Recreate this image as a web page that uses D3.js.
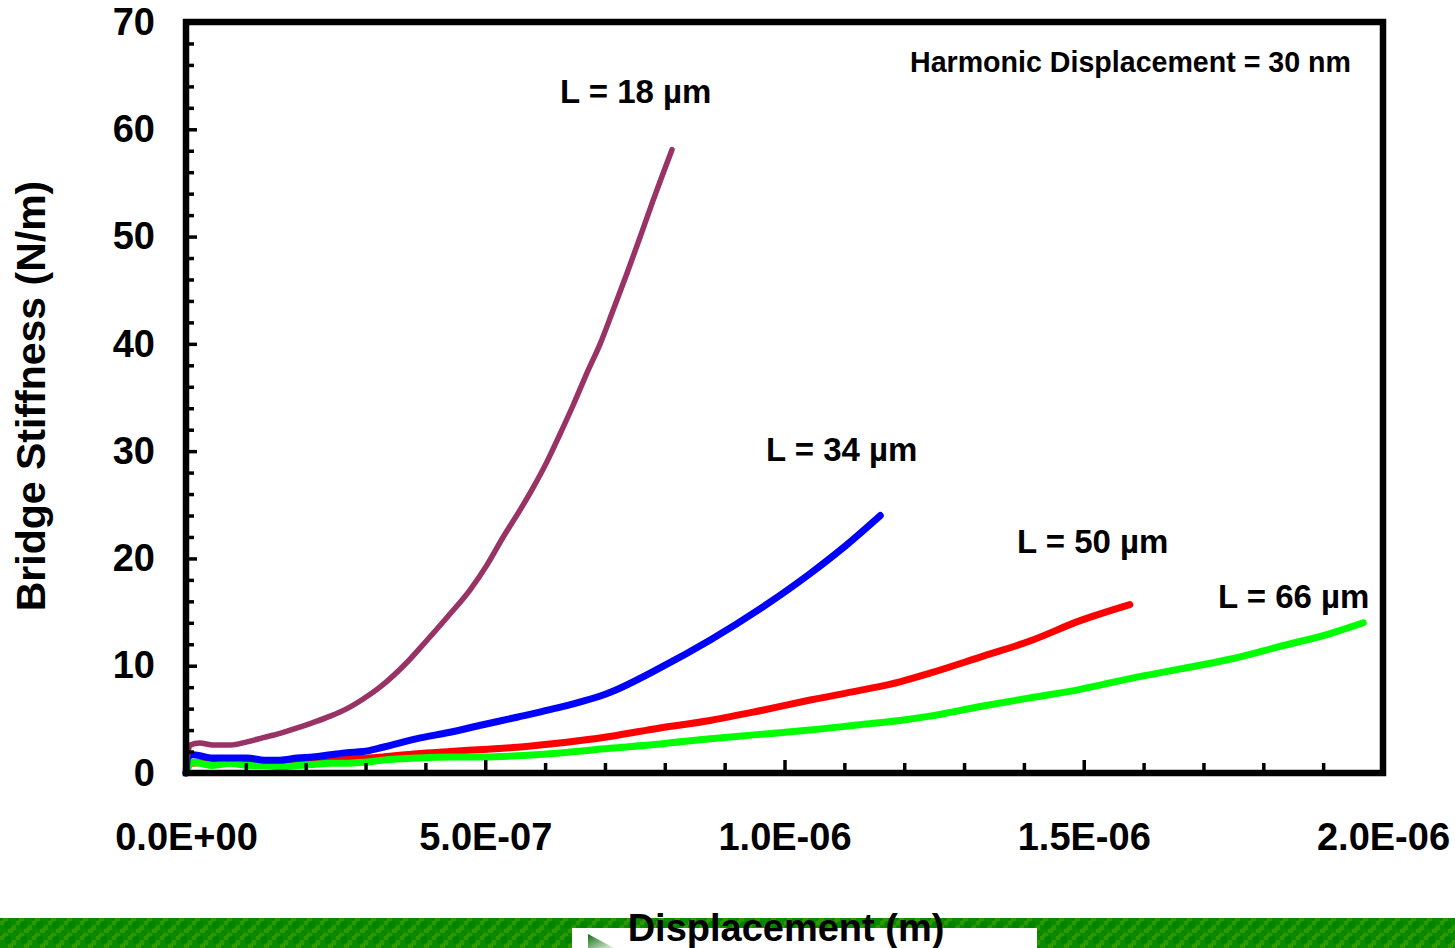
<!DOCTYPE html>
<html>
<head>
<meta charset="utf-8">
<script src="https://cdn.jsdelivr.net/npm/d3@7/dist/d3.min.js"></script>
<style>
  html, body { margin: 0; padding: 0; background: #ffffff; }
  svg { display: block; }
  text { font-family: "Liberation Sans", Arial, Helvetica, sans-serif; font-weight: bold; fill: #000; }
</style>
</head>
<body>
<svg id="chart" width="1455" height="948"></svg>
<script>
// ---- data (displacement in metres, stiffness in N/m) ----
const seriesNames = ["L = 18 µm", "L = 34 µm", "L = 50 µm", "L = 66 µm"];
const seriesColors = ["#993366", "#0000ff", "#ff0000", "#00ff00"];

const l18X = [0, 0.03, 0.07, 0.23, 0.45, 0.74, 1.02, 1.29, 1.57, 1.86, 2.12, 2.41, 2.69, 2.96, 3.24, 3.69, 4.03, 4.36, 4.75, 5.03, 5.30, 5.58, 5.80, 6.03, 6.25, 6.47, 6.70, 6.92, 7.14, 7.37, 7.59, 7.80, 8.12].map(v => v * 1e-7);
const l18Y = [0, 1.8, 2.6, 2.8, 2.6, 2.6, 2.9, 3.3, 3.7, 4.2, 4.7, 5.3, 6.0, 6.9, 8.0, 10.3, 12.4, 14.5, 17.1, 19.4, 22.0, 24.5, 26.6, 29.0, 31.6, 34.3, 37.3, 40.0, 43.2, 46.6, 50.0, 53.3, 58.1];

const l34X = [0, 0.03, 0.12, 0.45, 0.74, 1.02, 1.29, 1.57, 1.86, 2.12, 2.41, 2.69, 2.96, 3.29, 3.86, 4.41, 4.96, 5.53, 6.08, 7.08, 7.92, 8.76, 9.59, 10.43, 10.98, 11.60].map(v => v * 1e-7);
const l34Y = [0, 1.5, 1.7, 1.4, 1.4, 1.4, 1.2, 1.2, 1.4, 1.5, 1.7, 1.9, 2.0, 2.4, 3.2, 3.8, 4.5, 5.2, 5.9, 7.5, 9.8, 12.4, 15.3, 18.6, 21.0, 24.0];

const l50X = [0, 0.07, 0.5, 1.0, 1.57, 2.41, 3.29, 3.86, 4.41, 4.96, 5.53, 6.08, 7.08, 7.92, 8.76, 9.59, 10.43, 11.26, 11.93, 12.43, 13.27, 14.10, 14.94, 15.77].map(v => v * 1e-7);
const l50Y = [0, 0.9, 1.0, 0.9, 1.0, 1.2, 1.5, 1.8, 2.0, 2.2, 2.4, 2.7, 3.4, 4.2, 4.9, 5.8, 6.8, 7.7, 8.5, 9.3, 10.8, 12.3, 14.2, 15.7];

const l66X = [0, 0.10, 0.23, 0.45, 0.74, 1.02, 1.29, 1.57, 1.86, 2.12, 2.41, 2.69, 2.96, 3.29, 3.86, 4.41, 4.96, 5.53, 6.08, 7.08, 7.92, 8.76, 9.59, 10.43, 11.26, 11.93, 12.43, 13.27, 14.10, 14.94, 15.77, 16.61, 17.44, 18.28, 19.12, 19.67].map(v => v * 1e-7);
const l66Y = [0, 1.0, 0.9, 0.7, 0.9, 0.7, 0.7, 0.6, 0.7, 0.8, 0.9, 0.9, 1.0, 1.2, 1.4, 1.5, 1.5, 1.6, 1.8, 2.3, 2.7, 3.2, 3.6, 4.0, 4.5, 4.9, 5.3, 6.2, 7.0, 7.8, 8.8, 9.7, 10.6, 11.8, 13.0, 14.0];

const xMajorTicks = [0, 5e-7, 1e-6, 1.5e-6, 2e-6];
const xMinorTicks = [1e-7, 2e-7, 3e-7, 4e-7, 6e-7, 7e-7, 8e-7, 9e-7, 1.1e-6, 1.2e-6, 1.3e-6, 1.4e-6, 1.6e-6, 1.7e-6, 1.8e-6, 1.9e-6];
const yMajorTicks = [0, 10, 20, 30, 40, 50, 60, 70];
const yMinorTicks = [2, 4, 6, 8, 12, 14, 16, 18, 22, 24, 26, 28, 32, 34, 36, 38, 42, 44, 46, 48, 52, 54, 56, 58, 62, 64, 66, 68];

const xTitle = "Displacement (m)";
const yTitle = "Bridge Stiffness (N/m)";
const noteText = "Harmonic Displacement = 30 nm";

// ---- layout ----
const svg = d3.select("#chart");
const plotLeft = 186, plotRight = 1383, plotTop = 22, plotBottom = 773;
const x = d3.scaleLinear().domain([0, 2e-6]).range([plotLeft, plotRight]);
const y = d3.scaleLinear().domain([0, 70]).range([plotBottom, plotTop]);

function sci(v) {
  let s = v.toExponential(1).toUpperCase();
  return s.replace(/E([+-])(\d)$/, "E$10$2");
}

// ---- bottom decorative band ----
const defs = svg.append("defs");
const pat = defs.append("pattern").attr("id", "band").attr("patternUnits", "userSpaceOnUse")
  .attr("width", 16).attr("height", 15).attr("x", 0).attr("y", 918);
pat.append("rect").attr("width", 16).attr("height", 15).attr("fill", "#0a8a00");
pat.append("rect").attr("x", 0).attr("y", 0).attr("width", 8).attr("height", 7).attr("fill", "#2f9800");
pat.append("rect").attr("x", 8).attr("y", 7).attr("width", 8).attr("height", 8).attr("fill", "#2f9800");
pat.append("circle").attr("cx", 8).attr("cy", 7).attr("r", 4).attr("fill", "#008400");
pat.append("circle").attr("cx", 0).attr("cy", 0).attr("r", 3).attr("fill", "#008400");
pat.append("circle").attr("cx", 16).attr("cy", 15).attr("r", 3).attr("fill", "#008400");

const grad = defs.append("linearGradient").attr("id", "tri").attr("x1", 0).attr("y1", 0).attr("x2", 1).attr("y2", 1);
grad.append("stop").attr("offset", "0%").attr("stop-color", "#0e6e0e");
grad.append("stop").attr("offset", "100%").attr("stop-color", "#e6f2e6");

svg.append("rect").attr("x", 0).attr("y", 918).attr("width", 1455).attr("height", 30).attr("fill", "url(#band)");
svg.append("rect").attr("x", 572).attr("y", 928).attr("width", 465).attr("height", 20).attr("fill", "#ffffff");
svg.append("path").attr("d", "M588,934 L588,948 L614,948 Z").attr("fill", "url(#tri)");

// ---- series lines ----
const lineGen = d3.line().curve(d3.curveMonotoneX).x(d => x(d[0])).y(d => y(d[1]));
const series = [
  { xs: l50X, ys: l50Y, c: seriesColors[2], w: 7 },
  { xs: l66X, ys: l66Y, c: seriesColors[3], w: 7 },
  { xs: l34X, ys: l34Y, c: seriesColors[1], w: 7 },
  { xs: l18X, ys: l18Y, c: seriesColors[0], w: 5.5 }
];
series.forEach(s => {
  svg.append("path")
    .datum(d3.zip(s.xs, s.ys))
    .attr("d", lineGen)
    .attr("fill", "none")
    .attr("stroke", s.c)
    .attr("stroke-width", s.w)
    .attr("stroke-linejoin", "round")
    .attr("stroke-linecap", "round");
});

// ---- axes ----
const yMinorAxis = d3.axisLeft(y).tickValues(yMinorTicks).tickSize(-8).tickFormat("");
const yMajorAxis = d3.axisLeft(y).tickValues(yMajorTicks).tickSize(-11).tickPadding(31).tickFormat(d3.format("d"));
const xMinorAxis = d3.axisBottom(x).tickValues(xMinorTicks).tickSize(-10).tickFormat("");
const xMajorAxis = d3.axisBottom(x).tickValues(xMajorTicks).tickSize(-13).tickPadding(50).tickFormat(sci);

function styleAxis(g) {
  g.select(".domain").remove();
  g.selectAll(".tick line").attr("stroke", "#000").attr("stroke-width", 3.5);
  g.selectAll(".tick text").style("font-size", "38px").attr("fill", "#000");
}
svg.append("g").attr("transform", `translate(${plotLeft},0)`).call(yMinorAxis).call(styleAxis);
svg.append("g").attr("transform", `translate(${plotLeft},0)`).call(yMajorAxis).call(styleAxis);
svg.append("g").attr("transform", `translate(0,${plotBottom})`).call(xMinorAxis).call(styleAxis);
svg.append("g").attr("transform", `translate(0,${plotBottom})`).call(xMajorAxis).call(styleAxis);

// frame
svg.append("rect").attr("x", plotLeft).attr("y", plotTop).attr("width", plotRight - plotLeft).attr("height", plotBottom - plotTop)
  .attr("fill", "none").attr("stroke", "#000").attr("stroke-width", 6.5);

// ---- titles ----
svg.append("text").attr("x", 786).attr("y", 941).attr("text-anchor", "middle").style("font-size", "38px").text(xTitle);
svg.append("text").attr("transform", "translate(45,396) rotate(-90)").attr("text-anchor", "middle").style("font-size", "41px").text(yTitle);

// ---- annotations ----
svg.append("text").attr("x", 910).attr("y", 72).style("font-size", "28.6px").text(noteText);
const labelPos = [[560, 103], [766, 461], [1017, 553], [1218, 608]];
seriesNames.forEach((n, i) => {
  svg.append("text").attr("x", labelPos[i][0]).attr("y", labelPos[i][1]).style("font-size", "33px").text(n);
});
</script>
</body>
</html>
